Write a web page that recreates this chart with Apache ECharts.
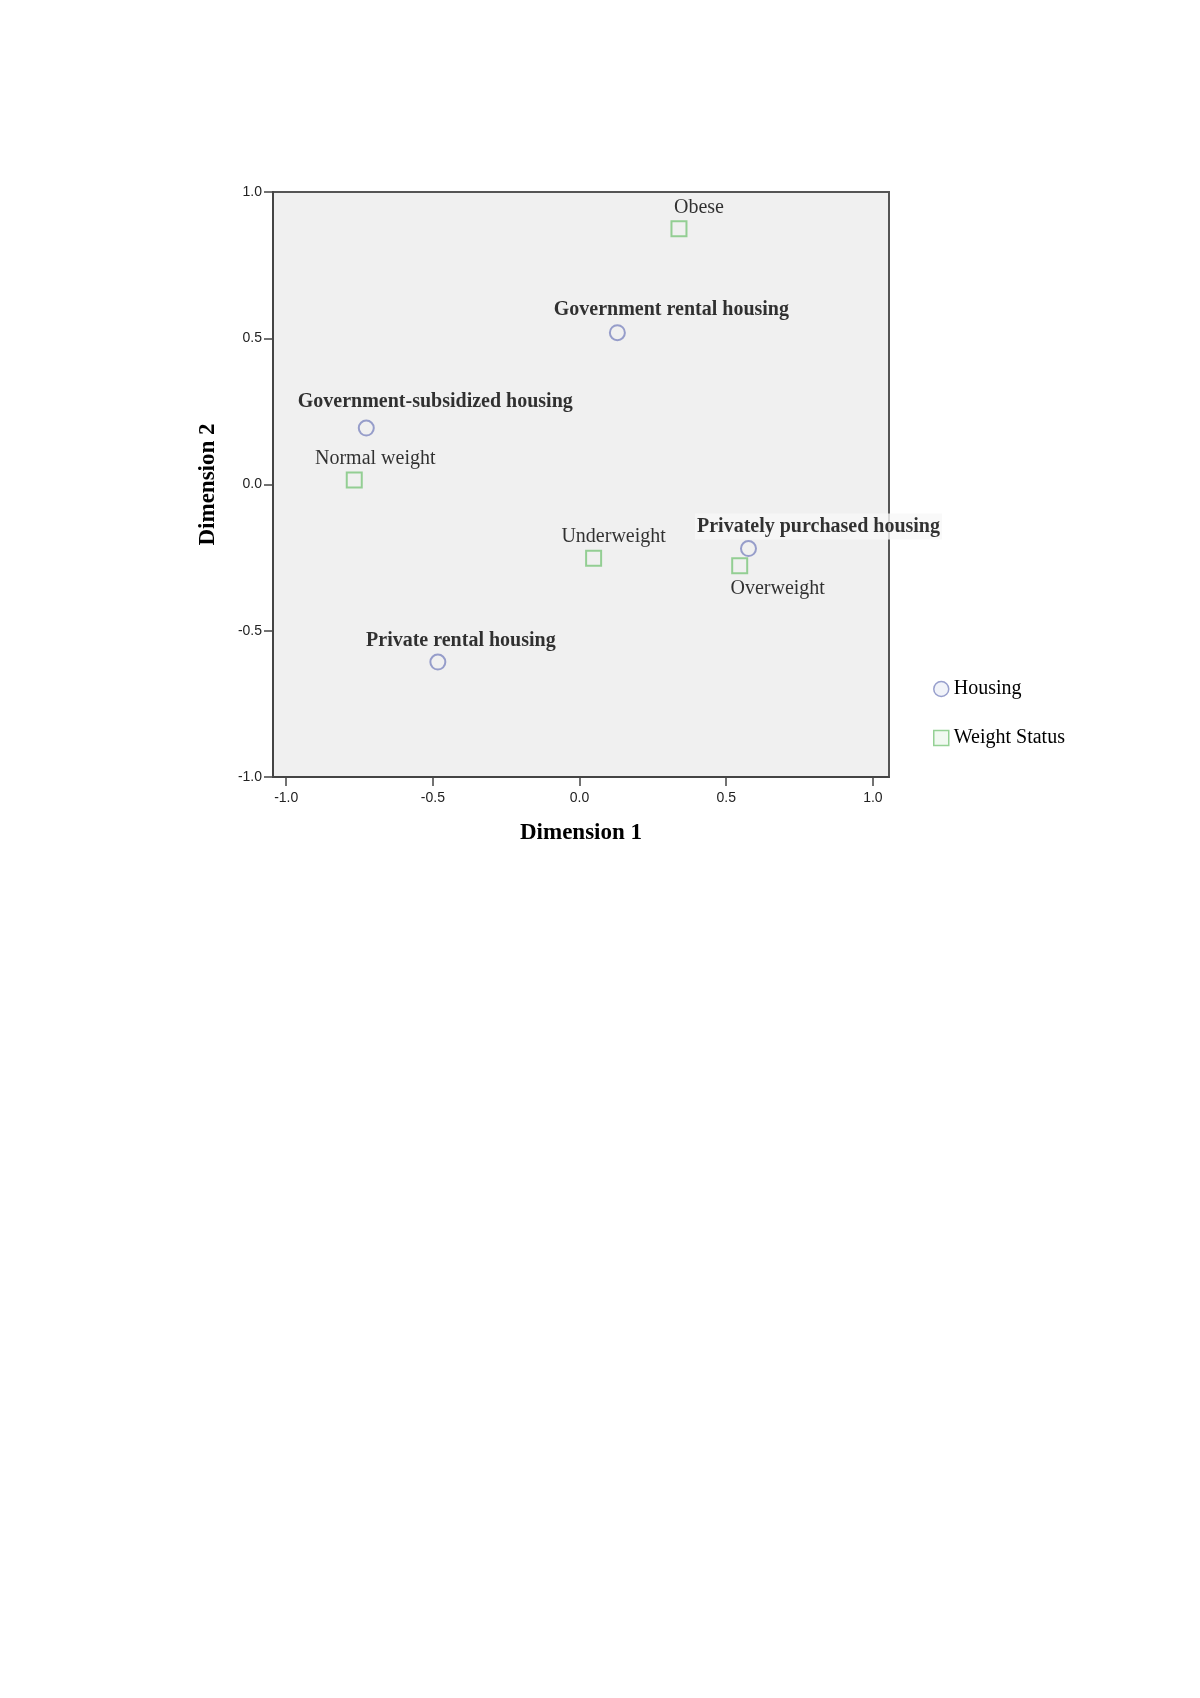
<!DOCTYPE html>
<html>
<head>
<meta charset="utf-8">
<style>
  html, body { margin: 0; padding: 0; background: #ffffff; }
  #chart { width: 1200px; height: 1698px; }
</style>
<script src="https://cdn.jsdelivr.net/npm/echarts@6/dist/echarts.min.js"></script>
</head>
<body>
<div id="chart"></div>
<script>
// ---- data ----
const housingNames = ['Government rental housing', 'Government-subsidized housing', 'Privately purchased housing', 'Private rental housing'];
const housingX = [0.129, -0.727, 0.576, -0.483];
const housingY = [0.519, 0.193, -0.219, -0.607];

const weightNames = ['Obese', 'Normal weight', 'Underweight', 'Overweight'];
const weightX = [0.339, -0.768, 0.048, 0.546];
const weightY = [0.874, 0.015, -0.252, -0.278];

const tickValues = [-1.0, -0.5, 0.0, 0.5, 1.0];
const seriesNames = ['Housing', 'Weight Status'];
const axisNames = ['Dimension 1', 'Dimension 2'];

// ---- label placement (style, not data) ----
const housingLabelOffsets = [[54, -23], [69, -26], [70, -22], [23, -21]];
const weightLabelOffsets = [[20, -21], [21, -21], [20, -21], [38, 23]];

const serif = '"Liberation Serif", "DejaVu Serif", serif';
const circleColor = '#8088c0';
const squareColor = '#7cc57c';

function buildData(names, xs, ys, offsets, extra) {
  return names.map((n, i) => {
    const item = {
      name: n,
      value: [xs[i], ys[i]],
      label: { offset: offsets[i] }
    };
    if (extra && extra[i]) Object.assign(item.label, extra[i]);
    return item;
  });
}

const housingExtra = [null, null, { backgroundColor: '#f7f7f7', padding: [3, 2] }, null];

const chart = echarts.init(document.getElementById('chart'), null, { renderer: 'canvas' });

const option = {
  backgroundColor: '#ffffff',
  animation: false,
  grid: {
    left: 273, right: 311, top: 192, bottom: 921,
    show: true,
    backgroundColor: '#f0f0f0',
    borderColor: '#555555',
    borderWidth: 2
  },
  xAxis: {
    type: 'value',
    min: -1.045, max: 1.055,
    name: axisNames[0],
    nameLocation: 'middle',
    nameGap: 45,
    nameTextStyle: { fontFamily: serif, fontSize: 23, fontWeight: 'bold', color: '#000' },
    axisLine: { show: true, onZero: false, lineStyle: { color: '#444', width: 2 } },
    axisTick: { show: true, length: 9, customValues: tickValues, lineStyle: { color: '#444', width: 1.5 } },
    axisLabel: {
      customValues: tickValues,
      margin: 14,
      fontFamily: '"Liberation Sans", Arial, sans-serif',
      fontSize: 14, color: '#222',
      formatter: v => v.toFixed(1)
    },
    splitLine: { show: false }
  },
  yAxis: {
    type: 'value',
    min: -1, max: 1, interval: 0.5,
    name: axisNames[1],
    nameLocation: 'middle',
    nameGap: 53,
    nameRotate: 90,
    nameTextStyle: { fontFamily: serif, fontSize: 23, fontWeight: 'bold', color: '#000' },
    axisLine: { show: true, onZero: false, lineStyle: { color: '#444', width: 2 } },
    axisTick: { show: true, length: 9, lineStyle: { color: '#444', width: 1.5 } },
    axisLabel: {
      margin: 11,
      fontFamily: '"Liberation Sans", Arial, sans-serif',
      fontSize: 14, color: '#222',
      formatter: v => v.toFixed(1)
    },
    splitLine: { show: false }
  },
  legend: {
    orient: 'vertical',
    left: 928, top: 674,
    itemWidth: 15, itemHeight: 15,
    itemGap: 29,
    textStyle: { fontFamily: serif, fontSize: 20, color: '#000' },
    data: [
      { name: seriesNames[0], icon: 'circle', itemStyle: { color: '#eef0f8', borderColor: circleColor, borderWidth: 1.5 } },
      { name: seriesNames[1], icon: 'rect', itemStyle: { color: '#eef8ee', borderColor: squareColor, borderWidth: 1.5 } }
    ]
  },
  series: [
    {
      name: seriesNames[0],
      type: 'scatter',
      symbol: 'circle',
      symbolSize: 15,
      itemStyle: { color: 'rgba(0,0,0,0)', borderColor: circleColor, borderWidth: 2 },
      label: {
        show: true,
        position: 'inside',
        formatter: p => p.name,
        fontFamily: serif, fontSize: 20, fontWeight: 'bold', color: '#000'
      },
      emphasis: { disabled: true },
      data: buildData(housingNames, housingX, housingY, housingLabelOffsets, housingExtra),
      z: 3
    },
    {
      name: seriesNames[1],
      type: 'scatter',
      symbol: 'rect',
      symbolSize: 15,
      itemStyle: { color: 'rgba(0,0,0,0)', borderColor: squareColor, borderWidth: 2 },
      label: {
        show: true,
        position: 'inside',
        formatter: p => p.name,
        fontFamily: serif, fontSize: 20, fontWeight: 'normal', color: '#000'
      },
      emphasis: { disabled: true },
      data: buildData(weightNames, weightX, weightY, weightLabelOffsets, null),
      z: 2
    }
  ]
};

chart.setOption(option);
</script>
</body>
</html>
